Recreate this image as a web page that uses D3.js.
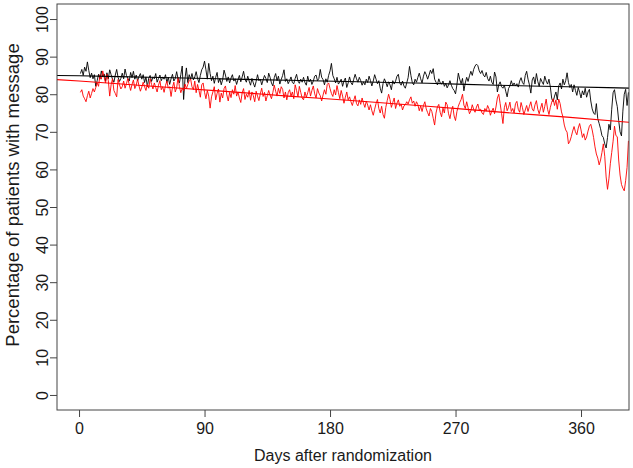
<!DOCTYPE html>
<html>
<head>
<meta charset="utf-8">
<script src="https://cdn.jsdelivr.net/npm/d3@7"></script>
<style>
  body { margin: 0; background: #fff; }
  text { font-family: "Liberation Sans", Arial, sans-serif; fill: #1a1a1a; }
</style>
</head>
<body>
<script>
// daily percentages, day 1 onwards
var firstDay = 1;

var blackValues = [
  85.5,86.6,85.0,87.2,86.1,88.6,86.3,84.4,85.6,84.1,
  85.2,82.1,83.6,85.3,84.0,86.2,84.6,85.4,83.5,85.7,
  84.1,86.5,85.2,84.0,83.2,85.1,86.6,84.5,83.4,84.2,
  85.6,84.1,86.7,85.0,84.2,83.5,85.8,84.4,86.1,84.0,
  85.1,83.6,84.7,85.5,84.0,85.2,83.1,84.6,82.0,84.3,
  85.0,83.4,84.6,84.1,85.5,83.2,84.2,85.1,83.6,84.6,
  84.0,85.2,83.1,84.5,82.6,84.1,85.3,83.5,84.2,86.0,
  84.1,83.0,85.2,87.5,78.6,84.2,87.0,83.1,85.2,84.0,
  85.5,83.8,84.6,86.0,84.2,83.1,85.0,86.5,87.2,88.8,
  86.5,84.0,88.2,85.5,83.6,84.8,82.9,84.5,85.8,83.1,
  84.2,82.5,83.9,86.4,85.1,83.4,84.6,83.0,84.3,85.2,
  83.5,84.1,82.6,83.9,85.0,83.3,84.6,86.1,84.0,83.2,
  84.8,83.5,82.4,84.2,83.0,81.9,83.4,85.2,83.6,84.0,
  82.5,83.8,85.0,84.2,83.1,85.6,84.5,83.0,82.2,84.4,
  85.5,83.6,84.8,82.7,83.9,85.0,86.5,83.4,84.1,82.8,
  83.6,84.6,83.1,82.8,84.2,85.3,83.5,82.9,84.0,83.2,
  84.5,83.1,82.4,84.8,83.3,84.0,82.6,83.5,84.8,85.1,
  83.6,84.2,86.6,84.5,83.9,82.5,84.1,83.2,85.0,86.2,
  88.2,85.0,84.1,83.0,84.5,82.7,83.2,84.0,82.1,83.5,
  84.3,81.8,83.0,84.6,83.1,82.5,84.0,85.3,84.1,83.2,
  84.5,83.6,82.4,83.3,82.5,84.0,83.1,84.8,83.6,82.2,
  83.5,85.2,84.0,82.8,83.6,81.6,80.3,82.8,84.1,83.2,
  82.0,83.3,82.5,81.2,83.6,82.7,83.5,84.8,85.3,83.0,
  82.4,83.5,82.2,81.6,83.0,84.4,87.4,85.0,83.1,82.5,
  84.0,83.2,84.5,85.6,84.1,83.0,84.8,86.0,85.2,84.0,
  85.1,86.4,85.5,86.8,84.0,83.2,82.5,84.1,83.0,82.7,
  83.5,82.1,82.9,81.7,82.5,83.6,82.4,81.5,81.0,80.1,
  82.6,85.6,84.0,82.8,84.2,80.9,83.0,84.5,83.4,84.9,
  86.1,85.0,86.6,87.5,88.0,87.6,86.2,85.5,86.3,85.1,
  84.6,85.8,84.2,83.5,84.8,83.2,82.6,85.9,84.6,80.6,
  82.5,83.3,82.0,81.6,82.4,80.8,79.3,81.5,82.2,83.6,
  82.3,83.0,82.2,82.8,81.9,83.5,84.4,83.1,82.6,85.0,
  86.1,84.0,82.5,80.3,83.8,84.6,82.7,85.5,83.4,82.1,
  84.2,83.3,82.6,84.8,83.5,82.7,84.0,81.9,78.8,78.0,
  79.5,80.6,78.5,82.2,83.0,81.4,84.0,82.5,83.6,85.7,
  83.1,81.8,82.6,80.6,82.5,81.0,79.7,81.8,80.5,79.0,
  80.9,79.8,81.6,79.2,80.6,81.3,78.2,76.1,75.0,74.6,
  77.5,73.5,72.2,70.8,69.0,68.5,66.8,65.7,68.5,72.0,
  70.5,76.0,80.4,81.2,78.5,76.7,73.0,70.0,68.9,75.5,
  80.0,81.3,77.0,80.5
];

var redValues = [
  80.5,81.2,79.5,78.8,78.0,79.6,80.8,79.0,80.2,81.5,
  80.6,81.8,83.0,82.1,85.2,84.0,86.2,84.5,83.0,85.3,
  83.6,79.5,82.5,84.1,81.0,80.2,79.3,83.9,82.5,81.4,
  82.0,83.5,81.6,82.8,84.2,82.5,81.0,82.6,83.8,81.5,
  82.4,84.0,82.2,80.8,81.9,83.2,82.0,81.0,82.7,81.6,
  84.1,82.6,81.4,83.0,81.8,80.6,82.4,83.6,81.2,82.0,
  80.5,82.3,83.5,81.6,82.0,79.4,81.8,83.2,80.6,81.7,
  84.5,82.0,80.4,81.6,80.9,82.7,81.5,82.6,83.6,84.1,
  82.0,81.2,83.5,80.4,82.6,81.0,79.2,82.5,83.0,80.5,
  78.8,81.0,79.5,76.3,79.3,80.6,82.0,78.5,80.2,81.4,
  77.9,80.3,79.0,81.5,82.2,79.8,78.2,80.5,79.1,81.2,
  80.0,82.3,79.5,80.6,79.0,77.8,80.4,81.5,78.6,80.0,
  79.2,81.0,78.4,80.6,79.6,78.0,80.8,79.5,78.3,80.1,
  81.6,79.4,80.5,78.2,79.6,81.0,79.8,78.8,80.5,82.4,
  80.8,79.5,81.6,80.2,82.0,81.3,79.0,80.6,78.5,80.4,
  81.2,79.5,80.6,78.8,82.5,81.0,79.3,82.1,80.5,79.0,
  78.5,80.6,79.2,80.4,81.8,79.5,81.0,82.2,80.1,79.0,
  81.5,80.3,79.6,78.2,79.8,81.2,80.0,82.6,83.0,81.5,
  80.2,79.4,81.2,79.8,82.3,80.5,78.8,81.0,79.5,77.6,
  79.2,80.6,78.5,79.3,78.0,77.0,78.4,79.6,77.5,76.9,
  78.5,77.3,79.0,77.6,76.5,78.2,77.1,75.8,77.2,75.6,
  74.4,76.0,77.5,78.6,76.2,75.0,76.8,74.6,73.6,76.5,
  78.3,80.0,78.6,76.5,77.8,79.0,76.2,77.6,78.5,76.8,
  77.4,75.8,76.9,77.2,78.0,77.4,78.5,79.3,77.6,78.2,
  76.8,78.0,77.2,75.6,76.9,75.4,77.0,78.0,76.1,75.1,
  74.2,76.2,75.4,73.6,71.8,75.0,76.6,77.3,75.2,74.0,
  76.3,75.0,77.9,77.2,74.8,73.5,75.6,76.8,74.2,73.0,
  75.4,76.8,77.8,78.6,80.0,77.1,76.2,78.0,76.4,74.8,
  75.6,77.2,76.0,75.2,76.6,77.4,75.8,76.0,75.0,74.6,
  76.2,75.5,77.0,76.1,74.4,75.5,76.3,74.8,76.6,79.0,
  80.0,77.5,74.9,72.2,76.4,77.8,75.6,76.5,77.9,75.4,
  76.2,75.0,77.5,78.1,76.0,75.2,77.8,76.4,74.6,75.8,
  77.0,75.4,76.8,78.0,76.1,75.5,77.2,78.3,76.0,74.8,
  76.3,77.6,75.2,76.8,78.7,76.0,74.6,76.5,77.9,78.8,
  77.0,78.5,76.0,78.7,77.5,75.3,74.0,71.8,70.5,69.9,
  66.8,67.5,68.7,70.2,71.4,70.0,69.2,71.0,72.2,70.5,
  68.5,69.5,67.8,68.6,70.2,71.5,72.0,70.5,68.5,66.0,
  64.1,63.0,61.2,62.5,64.5,66.8,63.5,58.0,54.7,57.5,
  61.5,64.5,67.5,71.5,69.0,68.7,62.5,58.5,56.0,55.0,
  54.3,57.0,60.5,67.6
];

// fitted trend curves, sampled at a few days
var trendDays  = [-16, 0, 50, 100, 150, 200, 250, 300, 350, 396];
var blackTrend = [85.0, 84.9, 84.5, 84.1, 83.7, 83.3, 82.9, 82.4, 82.0, 81.6];
var redTrend   = [83.9, 83.5, 82.2, 80.9, 79.5, 78.2, 76.8, 75.3, 73.9, 72.5];

var xTicks = [0, 90, 180, 270, 360];
var yTicks = [0, 10, 20, 30, 40, 50, 60, 70, 80, 90, 100];

var W = 633, H = 468;
var plotL = 57, plotR = 629, plotT = 4, plotB = 410;

var svg = d3.select("body").append("svg")
    .attr("width", W)
    .attr("height", H);

var x = d3.scaleLinear().domain([-15.8, 394.4]).range([plotL, plotR]);
var y = d3.scaleLinear().domain([-4, 104]).range([plotB, plotT]);

svg.append("clipPath").attr("id", "plotclip")
  .append("rect")
    .attr("x", plotL).attr("y", plotT)
    .attr("width", plotR - plotL).attr("height", plotB - plotT);

var plot = svg.append("g").attr("clip-path", "url(#plotclip)");

function toPoints(values) {
  return values.map(function (v, i) { return [firstDay + i, v]; });
}

var line = d3.line()
    .x(function (d) { return x(d[0]); })
    .y(function (d) { return y(d[1]); });

var smooth = d3.line()
    .curve(d3.curveMonotoneX)
    .x(function (d) { return x(d[0]); })
    .y(function (d) { return y(d[1]); });

plot.append("path")
    .attr("d", line(toPoints(blackValues)))
    .attr("fill", "none")
    .attr("stroke", "#000")
    .attr("stroke-width", 0.9);

plot.append("path")
    .attr("d", line(toPoints(redValues)))
    .attr("fill", "none")
    .attr("stroke", "#ff0000")
    .attr("stroke-width", 0.9);

plot.append("path")
    .attr("d", smooth(trendDays.map(function (d, i) { return [d, blackTrend[i]]; })))
    .attr("fill", "none")
    .attr("stroke", "#000")
    .attr("stroke-width", 1.1);

plot.append("path")
    .attr("d", smooth(trendDays.map(function (d, i) { return [d, redTrend[i]]; })))
    .attr("fill", "none")
    .attr("stroke", "#ff0000")
    .attr("stroke-width", 1.1);

// axes, R style
var xAxis = svg.append("g")
    .attr("transform", "translate(0," + plotB + ")")
    .call(d3.axisBottom(x).tickValues(xTicks).tickSize(7).tickPadding(6).tickSizeOuter(0));
xAxis.select(".domain").remove();
xAxis.selectAll("line").attr("stroke", "#444");
xAxis.selectAll("text")
    .attr("font-size", 16)
    .attr("dy", "0.71em")
    .style("font-family", "'Liberation Sans', Arial, sans-serif")
    .attr("fill", "#1a1a1a");

var yAxis = svg.append("g")
    .attr("transform", "translate(" + plotL + ",0)")
    .call(d3.axisLeft(y).tickValues(yTicks).tickSize(7).tickSizeOuter(0));
yAxis.select(".domain").remove();
yAxis.selectAll("line").attr("stroke", "#444");
yAxis.selectAll("text")
    .attr("font-size", 16)
    .attr("x", 0).attr("dy", 0)
    .attr("text-anchor", "middle")
    .attr("transform", "translate(-9,0) rotate(-90)")
    .style("font-family", "'Liberation Sans', Arial, sans-serif")
    .attr("fill", "#1a1a1a");

svg.append("rect")
    .attr("x", plotL).attr("y", plotT)
    .attr("width", plotR - plotL).attr("height", plotB - plotT)
    .attr("fill", "none")
    .attr("stroke", "#444")
    .attr("stroke-width", 1);

svg.append("text")
    .attr("x", (plotL + plotR) / 2)
    .attr("y", 461)
    .attr("text-anchor", "middle")
    .attr("font-size", 16)
    .text("Days after randomization");

svg.append("text")
    .attr("transform", "translate(19,195) rotate(-90)")
    .attr("text-anchor", "middle")
    .attr("font-size", 18.5)
    .text("Percentage of patients with message");
</script>
</body>
</html>
